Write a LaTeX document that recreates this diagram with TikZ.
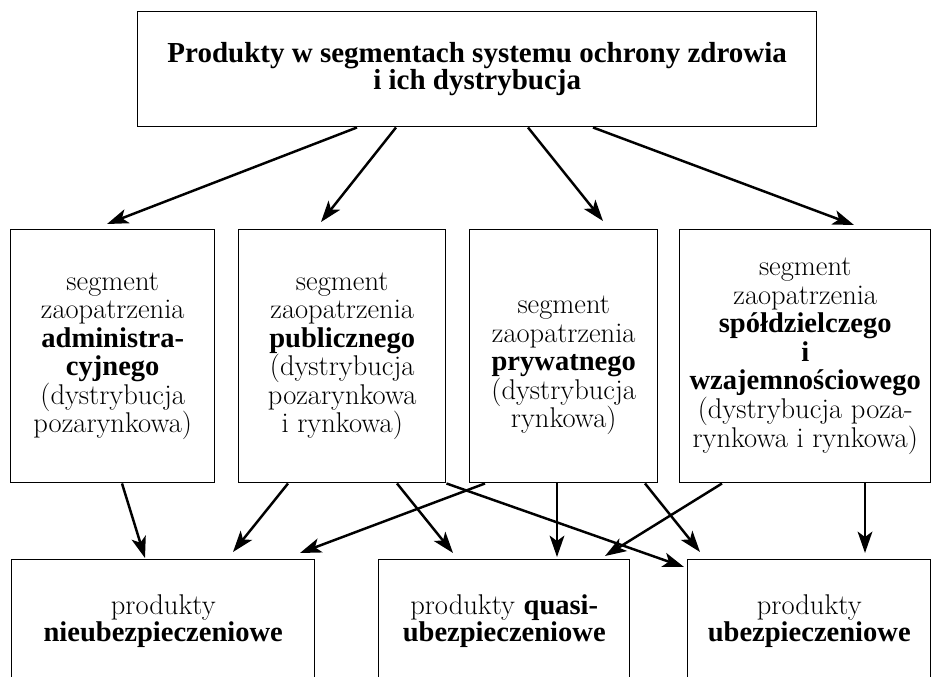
\documentclass[tikz,border=0pt]{standalone}
\usepackage{fontspec}
\newfontfamily\bfx{Liberation Serif}
\usetikzlibrary{arrows.meta,calc}
\newcommand\bb[1]{{\bfx\bfseries #1}}
\begin{document}
\begin{tikzpicture}[x=0.75pt,y=-0.75pt,
  box/.style={draw=black,line width=1.1pt,inner sep=0pt,anchor=north west,align=center,
    font=\fontsize{21.4pt}{21.4pt}\selectfont},
  btext/.style={inner sep=0pt,align=center,font=\fontsize{21.4pt}{20.25pt}\selectfont},
  arr/.style={draw=black,line width=1.85pt,-{Stealth[length=16pt,width=11pt,inset=4pt]}}]
\useasboundingbox (0,0) rectangle (931,676);
\clip (0,0) rectangle (931,676);
% top
\node[box,minimum width={679*0.75pt},minimum height={115*0.75pt},
  font=\fontsize{21.75pt}{20.5pt}\selectfont] (top) at (137,11)
  {\bb{Produkty w segmentach systemu ochrony zdrowia}\\\bb{i ich dystrybucja}};
% middle
\node[box,minimum width={204*0.75pt},minimum height={253*0.75pt}] (m1) at (10,229)
  {segment\\zaopatrzenia\\\bb{administra-}\\\bb{cyjnego}\\(dystrybucja\\pozarynkowa)};
\node[box,minimum width={207*0.75pt},minimum height={253*0.75pt}] (m2) at (238,229)
  {segment\\zaopatrzenia\\\bb{publicznego}\\(dystrybucja\\pozarynkowa\\i rynkowa)};
\node[box,minimum width={188*0.75pt},minimum height={253*0.75pt}] (m3) at (469,229)
  {\rule{0pt}{27pt}segment\\zaopatrzenia\\\bb{prywatnego}\\(dystrybucja\\rynkowa)};
\node[box,minimum width={251*0.75pt},minimum height={253*0.75pt}] (m4) at (679,229)
  {segment\\zaopatrzenia\\\bb{spółdzielczego}\\\bb{i}\\\bb{wzajemnościowego}\\(dystrybucja poza-\\rynkowa i rynkowa)};
% bottom
\node[box,minimum width={303*0.75pt},minimum height={150*0.75pt}] (b1) at (11,559) {};
\node[box,minimum width={251*0.75pt},minimum height={150*0.75pt}] (b2) at (378,559) {};
\node[box,minimum width={243*0.75pt},minimum height={150*0.75pt}] (b3) at (687,559) {};
\node[btext] (b1t) at ($(b1.north)+(0,62)$) {produkty\\\bb{nieubezpieczeniowe}};
\node[btext] (b2t) at ($(b2.north)+(0,62)$) {produkty \bb{quasi-}\\\bb{ubezpieczeniowe}};
\node[btext] (b3t) at ($(b3.north)+(0,62)$) {produkty\\\bb{ubezpieczeniowe}};
% top -> middle
\draw[arr] ($(top.south west)+(220,0)$) -- ($(m1.north west)+(97,-5)$);
\draw[arr] ($(top.south west)+(259,0)$) -- ($(m2.north west)+(83,-7)$);
\draw[arr] ($(top.south west)+(391,0)$) -- ($(m3.north west)+(134,-8)$);
\draw[arr] ($(top.south west)+(456,0)$) -- ($(m4.north west)+(175,-4)$);
% middle -> bottom
\draw[arr] ($(m1.south west)+(112,0)$) -- ($(b1.north west)+(134,-1)$);
\draw[arr] ($(m2.south west)+(50,0)$) -- ($(b1.north west)+(222,-7)$);
\draw[arr] ($(m2.south west)+(159,0)$) -- ($(b2.north west)+(75,-6)$);
\draw[arr] (m2.south east) -- ($(b3.north west)+(-3,8)$);
\draw[arr] ($(m3.south west)+(16,0)$) -- ($(b1.north west)+(289,-6)$);
\draw[arr] ($(m3.south west)+(88,0)$) -- ($(b2.north west)+(179,-2)$);
\draw[arr] ($(m3.south west)+(176,0)$) -- ($(b3.north west)+(13,-7)$);
\draw[arr] ($(m4.south west)+(43,0)$) -- ($(b2.north west)+(227,-3)$);
\draw[arr] ($(m4.south west)+(186,0)$) -- ($(b3.north west)+(178,-6)$);
\end{tikzpicture}
\end{document}
